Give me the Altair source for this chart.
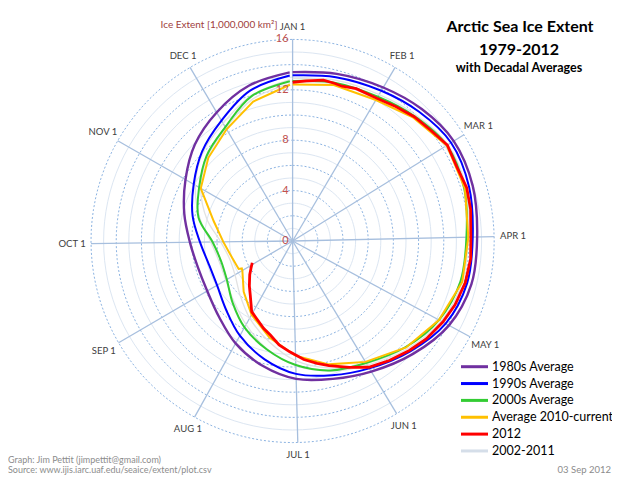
import altair as alt
import pandas as pd

# ---------------- data ----------------
DAYS = [1, 16, 32, 46, 60, 75, 91, 106, 121, 136, 152, 167, 182, 197, 213,
        228, 244, 259, 274, 289, 305, 320, 335, 350, 365]

AVG_1980S = [13.4, 13.72, 14.15, 14.65, 15.05, 14.95, 14.65, 14.6, 14.1, 13.1,
             12.1, 11.4, 10.95, 10.2, 9.3, 8.4, 7.85, 7.8, 8.15, 8.86, 9.8,
             10.9, 11.85, 12.8, 13.38]
AVG_1990S = [13.15, 13.45, 13.85, 14.35, 14.8, 14.65, 14.3, 14.25, 13.8, 12.8,
             11.8, 11.1, 10.55, 9.65, 8.6, 7.6, 6.95, 6.9, 7.35, 8.18, 9.05,
             10.1, 11.1, 12.4, 13.13]
AVG_2000S = [12.7, 13.0, 13.3, 13.85, 14.4, 14.25, 13.8, 13.7, 13.2, 12.3,
             11.3, 10.7, 9.85, 8.85, 7.85, 6.85, 6.05, 5.9, 6.35, 7.7, 8.55,
             9.6, 10.5, 11.95, 12.68]

YDAYS = [1, 16, 32, 46, 60, 75, 91, 106, 121, 136, 152, 167, 182, 197, 213,
         228, 244, 246, 247, 259, 274, 289, 305, 320, 335, 350, 365]
AVG_2010 = [12.42, 12.8, 13.0, 13.7, 14.4, 14.3, 13.95, 13.85, 13.2, 12.35,
            11.2, 10.2, 9.1, 7.9, 6.7, 5.6, 4.62, 4.58, 4.82, 4.98, 5.5, 6.45,
            8.4, 9.4, 10.3, 11.5, 12.4]

RDAYS = [1, 6, 12, 16, 19, 24, 32, 39, 46, 53, 60, 68, 75, 82, 91, 98, 106,
         114, 121, 129, 136, 144, 152, 159, 167, 172, 178, 185, 191, 197, 202,
         209, 214, 222, 228, 236, 241, 246]
Y2012 = [12.6, 12.75, 13.0, 12.95, 12.9, 13.1, 13.15, 13.45, 13.8, 14.05,
         14.45, 14.3, 14.45, 14.35, 14.15, 14.2, 14.1, 13.85, 13.55, 13.15,
         12.7, 12.2, 11.7, 11.0, 10.3, 9.9, 9.45, 8.8, 8.32, 7.67, 7.31, 6.77,
         6.48, 5.46, 4.95, 4.33, 3.95, 3.64]

GRAY_A = [12.55, 12.9, 13.2, 13.75, 14.25, 14.2, 13.8, 13.7, 13.15, 12.35,
          11.35, 10.5, 9.5, 8.2, 7.0, 6.0, 5.3, 5.2, 5.7, 7.0, 8.4, 9.5, 10.4,
          11.7, 12.5]
GRAY_B = [12.9, 13.2, 13.5, 14.0, 14.5, 14.4, 13.95, 13.85, 13.4, 12.5, 11.5,
          10.75, 9.9, 8.8, 7.6, 6.7, 6.15, 6.05, 6.5, 7.6, 8.9, 10.0, 10.85,
          12.0, 12.8]

MONTHS = ["JAN 1", "FEB 1", "MAR 1", "APR 1", "MAY 1", "JUN 1", "JUL 1",
          "AUG 1", "SEP 1", "OCT 1", "NOV 1", "DEC 1"]
MONTH_DAYS = [1, 32, 60, 91, 121, 152, 182, 213, 244, 274, 305, 335]
RING_LABELS = [0, 4, 8, 12, 16]
SERIES = ["1980s Average", "1990s Average", "2000s Average",
          "Average 2010-current", "2012", "2002-2011"]
COLORS = ["#7030A0", "#0000FF", "#33CC33", "#FFC000", "#FF0000", "#D5DEE9"]

# ---------------- tables ----------------
rows = []
for name, dd, vv in [("2002-2011a", DAYS, GRAY_A), ("2002-2011b", DAYS, GRAY_B),
                     ("1980s Average", DAYS, AVG_1980S),
                     ("1990s Average", DAYS, AVG_1990S),
                     ("2000s Average", DAYS, AVG_2000S),
                     ("Average 2010-current", YDAYS, AVG_2010),
                     ("2012", RDAYS, Y2012)]:
    for d, v in zip(dd, vv):
        rows.append({"series": name, "day": d, "v": v})
lines = pd.DataFrame(rows)

ring_rows = []
for r in range(1, 17):
    for a in range(0, 361, 3):
        ring_rows.append({"r": r, "a": a, "major": r % 2 == 0})
rings = pd.DataFrame(ring_rows)

months = pd.DataFrame({"label": MONTHS, "day": MONTH_DAYS})
ringlab = pd.DataFrame({"v": RING_LABELS, "t": [str(x) for x in RING_LABELS]})
legend = pd.DataFrame({"series": SERIES, "i": list(range(len(SERIES))), "color": COLORS})

# ---------------- geometry ----------------
K = 12.6             # px per unit
CX, CY = 284.6, 233  # centre inside the svg
W, H = 604, 467
XS = alt.Scale(domain=[-CX / K, (W - CX) / K], nice=False, zero=False)
YS = alt.Scale(domain=[-(H - CY) / K, CY / K], nice=False, zero=False)


def X(f):
    return alt.X(f, type="quantitative", scale=XS, axis=None)


def Y(f):
    return alt.Y(f, type="quantitative", scale=YS, axis=None)


polar = dict(th="(datum.day - 1) / 365 * 2 * PI")

base_rings = alt.Chart(rings).transform_calculate(
    th="datum.a * PI / 180",
).transform_calculate(
    x="datum.r * sin(datum.th)", y="datum.r * cos(datum.th)"
)
minor = base_rings.transform_filter("!datum.major").mark_line(
    color="#DCE6F2", strokeWidth=1).encode(
    X("x"), Y("y"), order="a:Q", detail="r:N")
major = base_rings.transform_filter("datum.major").mark_line(
    color="#8DB4E2", strokeWidth=1, strokeDash=[2, 2]).encode(
    X("x"), Y("y"), order="a:Q", detail="r:N")

spokes = alt.Chart(months).transform_calculate(**polar).transform_calculate(
    x0="0", y0="0", x2="16 * sin(datum.th)", y2="16 * cos(datum.th)"
).mark_rule(color="#A7BFDE", strokeWidth=1.3).encode(
    X("x0"), Y("y0"), x2="x2:Q", y2="y2:Q")

mlab = alt.Chart(months).transform_calculate(**polar).transform_calculate(
    rl="16.95 + 0.55 * pow(sin(datum.th), 2)"
).transform_calculate(
    x="datum.rl * sin(datum.th)", y="datum.rl * cos(datum.th)"
).mark_text(font="Lato", fontSize=9.5, color="#404040", align="center",
            baseline="middle").encode(X("x"), Y("y"), text="label:N")

rlab = alt.Chart(ringlab).transform_calculate(x0="0").mark_text(
    font="Lato", fontSize=11, color="#C0504D", align="right", baseline="middle",
    dx=-4).encode(X("x0"), Y("v"), text="t:N")

lbase = alt.Chart(lines).transform_calculate(**polar).transform_calculate(
    x="datum.v * sin(datum.th)", y="datum.v * cos(datum.th)")


def series_layer(names, color, width, interp):
    flt = alt.FieldOneOfPredicate(field="series", oneOf=names)
    return lbase.transform_filter(flt).mark_line(
        color=color, strokeWidth=width, interpolate=interp).encode(
        X("x"), Y("y"), order="day:Q", detail="series:N")


gray = series_layer(["2002-2011a", "2002-2011b"], "#E2E2E2", 1.3, "catmull-rom")
p80 = series_layer(["1980s Average"], COLORS[0], 2.4, "catmull-rom")
p90 = series_layer(["1990s Average"], COLORS[1], 2.0, "catmull-rom")
p00 = series_layer(["2000s Average"], COLORS[2], 2.0, "catmull-rom")
p10 = series_layer(["Average 2010-current"], COLORS[3], 2.0, "linear")
p12 = series_layer(["2012"], COLORS[4], 2.8, "linear")

# legend built from the series table
lg = alt.Chart(legend).transform_calculate(
    ly="(" + str(CY + 8) + " - (366.7 + datum.i * 16.85)) / " + str(K),
    lx1="(461 - 8 - " + str(CX) + ") / " + str(K),
    lx2="(488 - 8 - " + str(CX) + ") / " + str(K),
    lxt="(492 - 8 - " + str(CX) + ") / " + str(K),
)
lg_rule = lg.mark_rule(strokeWidth=3).encode(
    X("lx1"), x2="lx2:Q", y=Y("ly"),
    color=alt.Color("color:N", scale=None))
lg_text = lg.mark_text(font="Lato", fontSize=12.5, color="#000000",
                       align="left", baseline="middle").encode(
    X("lxt"), Y("ly"), text="series:N")


def txt(s, x, y, size, color="#000000", bold=False, align="center"):
    return alt.Chart(pd.DataFrame({"t": [s]})).mark_text(
        font="Lato", fontSize=size, color=color, align=align, baseline="middle",
        fontWeight="bold" if bold else "normal").encode(
        x=alt.value(x - 8), y=alt.value(y - 8), text="t:N")


texts = [
    txt("Arctic Sea Ice Extent", 520, 27, 16, bold=True),
    txt("1979-2012", 519, 50, 16, bold=True),
    txt("with Decadal Averages", 519, 68, 12.5, bold=True),
    txt("Ice Extent [1,000,000 km²]", 219, 25, 10, color="#A0403D"),
    txt("Graph: Jim Pettit (jimpettit@gmail.com)", 8, 460, 9, color="#8C8C8C", align="left"),
    txt("Source: www.ijis.iarc.uaf.edu/seaice/extent/plot.csv", 8, 469.5, 9, color="#8C8C8C", align="left"),
    txt("03 Sep 2012", 611, 469.5, 9.5, color="#8C8C8C", align="right"),
]

chart = alt.layer(
    minor, major, spokes, gray, p80, p90, p00, p10, p12,
    mlab, rlab, lg_rule, lg_text, *texts
).properties(
    width=W, height=H, padding=0, autosize=alt.AutoSizeParams(type="none")
).configure_view(stroke=None)

chart.save("out.html", embed_options={"renderer": "svg", "actions": False})
